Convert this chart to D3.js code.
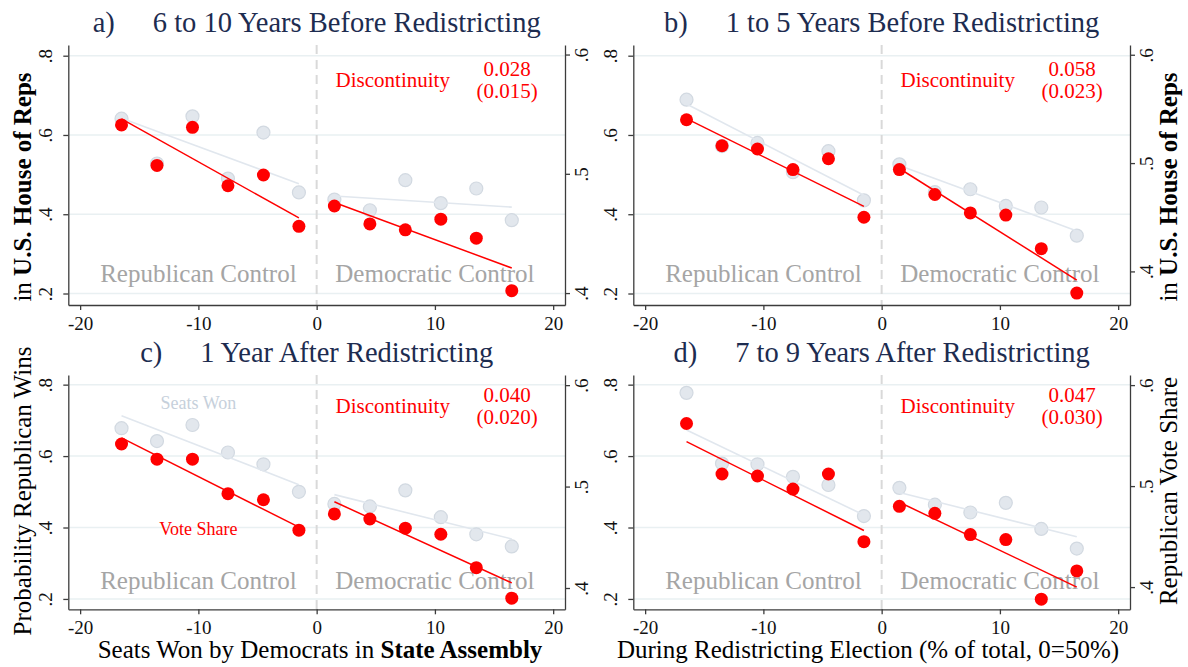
<!DOCTYPE html>
<html>
<head>
<meta charset="utf-8">
<script src="https://cdn.jsdelivr.net/npm/d3@7"></script>
<style>
  body { margin: 0; background: #fff; }
  svg { display: block; }
  text { font-family: "Liberation Serif", "Times New Roman", serif; }
</style>
</head>
<body>
<div id="chart-area"></div>
<script>
// bins of seats won by democrats (% of total, 0 = 50%)
var xBins = [-16.5, -13.5, -10.5, -7.5, -4.5, -1.5, 1.5, 4.5, 7.5, 10.5, 13.5, 16.5];

var panelLetters = ["a)", "b)", "c)", "d)"];
var panelTitles = ["6 to 10 Years Before Redistricting", "1 to 5 Years Before Redistricting",
                   "1 Year After Redistricting", "7 to 9 Years After Redistricting"];

// probability republican wins (left axis)
var seatsA = [0.641, 0.528, 0.647, 0.490, 0.606, 0.455, 0.437, 0.410, 0.486, 0.428, 0.465, 0.385];
var seatsB = [0.689, 0.572, 0.580, 0.506, 0.559, 0.435, 0.526, 0.456, 0.463, 0.421, 0.417, 0.346];
var seatsC = [0.678, 0.642, 0.687, 0.610, 0.577, 0.500, 0.466, 0.459, 0.504, 0.429, 0.381, 0.347];
var seatsD = [0.777, 0.579, 0.577, 0.542, 0.519, 0.432, 0.511, 0.464, 0.442, 0.469, 0.396, 0.341];

// republican vote share (right axis)
var votesA = [0.541, 0.507, 0.539, 0.490, 0.499, 0.456, 0.473, 0.458, 0.453, 0.462, 0.446, 0.402];
var votesB = [0.540, 0.516, 0.513, 0.494, 0.504, 0.450, 0.494, 0.471, 0.454, 0.452, 0.421, 0.380];
var votesC = [0.542, 0.527, 0.527, 0.493, 0.487, 0.457, 0.473, 0.468, 0.459, 0.453, 0.420, 0.390];
var votesD = [0.562, 0.512, 0.510, 0.497, 0.512, 0.445, 0.480, 0.473, 0.452, 0.447, 0.388, 0.416];

// fitted lines: value at -16.5, -1.5, 1.5, 16.5
var seatsFitA = [0.642, 0.477, 0.446, 0.418];
var seatsFitB = [0.678, 0.448, 0.523, 0.358];
var seatsFitC = [0.713, 0.520, 0.492, 0.368];
var seatsFitD = [0.673, 0.435, 0.498, 0.374];
var votesFitA = [0.546, 0.463, 0.476, 0.421];
var votesFitB = [0.541, 0.460, 0.495, 0.392];
var votesFitC = [0.548, 0.460, 0.485, 0.405];
var votesFitD = [0.544, 0.456, 0.484, 0.400];

var discEst = ["0.028", "0.058", "0.040", "0.047"];
var discSE = ["(0.015)", "(0.023)", "(0.020)", "(0.030)"];

var xTicks = [-20, -10, 0, 10, 20];
var xTickLabels = ["-20", "-10", "0", "10", "20"];
var leftTicks = [0.2, 0.4, 0.6, 0.8];
var leftTickLabels = [".2", ".4", ".6", ".8"];
var rightTicks = [0.4, 0.5, 0.6];
var rightTickLabels = [".4", ".5", ".6"];
var xDomain = [-21, 21];
var leftDomain = [0.171, 0.827];
var rightDomains = [[0.390, 0.608], [0.369, 0.609], [0.379, 0.610], [0.378, 0.610]];

var seats = [seatsA, seatsB, seatsC, seatsD];
var votes = [votesA, votesB, votesC, votesD];
var seatsFit = [seatsFitA, seatsFitB, seatsFitC, seatsFitD];
var votesFit = [votesFitA, votesFitB, votesFitC, votesFitD];

var total_width = 1188;
var total_height = 667;

var cols = [[68.3, 565], [633.3, 1130]];
var rows = [[45, 305], [375, 609.3]];

var red = "#ff0000";
var greyFill = "#e2e7ed";
var greyStroke = "#d2d9e1";
var greyLine = "#e1e7ee";
var axisColor = "#3c3c3c";

var svg = d3.select("#chart-area").append("svg")
            .attr("width", total_width)
            .attr("height", total_height);

svg.append("rect").attr("width", total_width).attr("height", total_height).attr("fill", "#fff");

function fmtFrom(ticks, labels) {
  return function(d) { return labels[ticks.indexOf(d)]; };
}

function styleAxis(g) {
  g.select(".domain").attr("stroke", axisColor).attr("stroke-width", 1.3);
  g.selectAll(".tick line").attr("stroke", axisColor).attr("stroke-width", 1.3);
  g.selectAll(".tick text")
   .attr("fill", "#111")
   .style("font-family", "'Liberation Serif', 'Times New Roman', serif")
   .style("font-size", "19px");
}

panelTitles.forEach(function(title, i) {
  var col = i % 2, row = Math.floor(i / 2);
  var x = d3.scaleLinear().domain(xDomain).range(cols[col]);
  var yL = d3.scaleLinear().domain(leftDomain).range([rows[row][1], rows[row][0]]);
  var yR = d3.scaleLinear().domain(rightDomains[i]).range([rows[row][1], rows[row][0]]);
  var g = svg.append("g");

  // grid
  g.selectAll(".grid").data(leftTicks).enter().append("line")
   .attr("x1", cols[col][0]).attr("x2", cols[col][1])
   .attr("y1", function(d) { return yL(d); }).attr("y2", function(d) { return yL(d); })
   .attr("stroke", "#e9f0f2").attr("stroke-width", 1.5);

  // cutoff
  g.append("line")
   .attr("x1", x(0)).attr("x2", x(0))
   .attr("y1", rows[row][0]).attr("y2", rows[row][1])
   .attr("stroke", "#d9d9d9").attr("stroke-width", 2)
   .attr("stroke-dasharray", "9,6");

  // axes
  var la = g.append("g").attr("transform", "translate(" + cols[col][0] + ",0)")
            .call(d3.axisLeft(yL).tickValues(leftTicks).tickFormat(fmtFrom(leftTicks, leftTickLabels))
                  .tickSize(5).tickSizeOuter(0));
  styleAxis(la);
  la.selectAll(".tick text").attr("transform", "rotate(-90)")
    .attr("x", 0).attr("y", -16).attr("dy", 0).attr("text-anchor", "middle");

  var ra = g.append("g").attr("transform", "translate(" + cols[col][1] + ",0)")
            .call(d3.axisRight(yR).tickValues(rightTicks).tickFormat(fmtFrom(rightTicks, rightTickLabels))
                  .tickSize(5).tickSizeOuter(0));
  styleAxis(ra);
  ra.selectAll(".tick text").attr("transform", "rotate(-90)")
    .attr("x", 0).attr("y", 23).attr("dy", 0).attr("text-anchor", "middle");

  var xa = g.append("g").attr("transform", "translate(0," + rows[row][1] + ")")
            .call(d3.axisBottom(x).tickValues(xTicks).tickFormat(fmtFrom(xTicks, xTickLabels))
                  .tickSize(5).tickSizeOuter(0));
  styleAxis(xa);
  xa.selectAll(".tick text").attr("y", 25).attr("dy", 0);

  // control labels
  g.append("text").attr("x", x(-10)).attr("y", yL(0.228))
   .attr("text-anchor", "middle").style("font-size", "25px").attr("fill", "#a5a5a5")
   .text("Republican Control");
  g.append("text").attr("x", x(10)).attr("y", yL(0.228))
   .attr("text-anchor", "middle").style("font-size", "25px").attr("fill", "#a5a5a5")
   .text("Democratic Control");

  // seats won
  var pts = xBins.map(function(b, k) { return {x: b, s: seats[i][k], v: votes[i][k]}; });
  g.selectAll(".seat").data(pts).enter().append("circle")
   .attr("cx", function(d) { return x(d.x); })
   .attr("cy", function(d) { return yL(d.s); })
   .attr("r", 6.5).attr("fill", greyFill).attr("stroke", greyStroke).attr("stroke-width", 1.2);

  var sf = seatsFit[i];
  [[-16.5, sf[0], -1.5, sf[1]], [1.5, sf[2], 16.5, sf[3]]].forEach(function(s) {
    g.append("line").attr("x1", x(s[0])).attr("y1", yL(s[1])).attr("x2", x(s[2])).attr("y2", yL(s[3]))
     .attr("stroke", greyLine).attr("stroke-width", 1.6);
  });

  // vote share
  g.selectAll(".vote").data(pts).enter().append("circle")
   .attr("cx", function(d) { return x(d.x); })
   .attr("cy", function(d) { return yR(d.v); })
   .attr("r", 6.5).attr("fill", red);

  var vf = votesFit[i];
  [[-16.5, vf[0], -1.5, vf[1]], [1.5, vf[2], 16.5, vf[3]]].forEach(function(s) {
    g.append("line").attr("x1", x(s[0])).attr("y1", yR(s[1])).attr("x2", x(s[2])).attr("y2", yR(s[3]))
     .attr("stroke", red).attr("stroke-width", 1.5);
  });

  // discontinuity
  var dy0 = yL(0.74);
  g.append("text").attr("x", x(1.6)).attr("y", dy0).attr("dy", "0.35em")
   .style("font-size", "21px").attr("fill", red).text("Discontinuity");
  g.append("text").attr("x", x(16.1)).attr("y", dy0 - 11).attr("dy", "0.35em")
   .attr("text-anchor", "middle").style("font-size", "21px").attr("fill", red).text(discEst[i]);
  g.append("text").attr("x", x(16.1)).attr("y", dy0 + 11).attr("dy", "0.35em")
   .attr("text-anchor", "middle").style("font-size", "21px").attr("fill", red).text(discSE[i]);

  // title
  var t = g.append("text").attr("x", x(0)).attr("y", rows[row][0] - 13)
           .attr("text-anchor", "middle").style("font-size", "28.5px").attr("fill", "#1d2c50");
  t.append("tspan").text(panelLetters[i]);
  t.append("tspan").attr("dx", 38).text(title);

  if (i == 2) {
    g.append("text").attr("x", x(-10)).attr("y", yL(0.732))
     .attr("text-anchor", "middle").style("font-size", "18px").attr("fill", "#c6d0db").text("Seats Won");
    g.append("text").attr("x", x(-10)).attr("y", yL(0.38))
     .attr("text-anchor", "middle").style("font-size", "18px").attr("fill", red).text("Vote Share");
  }
});

// axis titles
function yTitle(xp, yp, parts) {
  var t = svg.append("text").attr("transform", "translate(" + xp + "," + yp + ") rotate(-90)")
             .attr("text-anchor", "middle").style("font-size", "25px").attr("fill", "#000");
  parts.forEach(function(p) {
    t.append("tspan").style("font-weight", p[1] ? "bold" : "normal").text(p[0]);
  });
}
yTitle(31, 187, [["in ", false], ["U.S. House of Reps", true]]);
yTitle(31, 491, [["Probability Republican Wins", false]]);
yTitle(1177, 187, [["in ", false], ["U.S. House of Reps", true]]);
yTitle(1177, 491, [["Republican Vote Share", false]]);

var xt1 = svg.append("text").attr("x", 320).attr("y", 658)
             .attr("text-anchor", "middle").style("font-size", "25px").attr("fill", "#000");
xt1.append("tspan").text("Seats Won by Democrats in ");
xt1.append("tspan").style("font-weight", "bold").text("State Assembly");

svg.append("text").attr("x", 868).attr("y", 658)
   .attr("text-anchor", "middle").style("font-size", "25px").attr("fill", "#000")
   .text("During Redistricting Election (% of total, 0=50%)");
</script>
</body>
</html>
